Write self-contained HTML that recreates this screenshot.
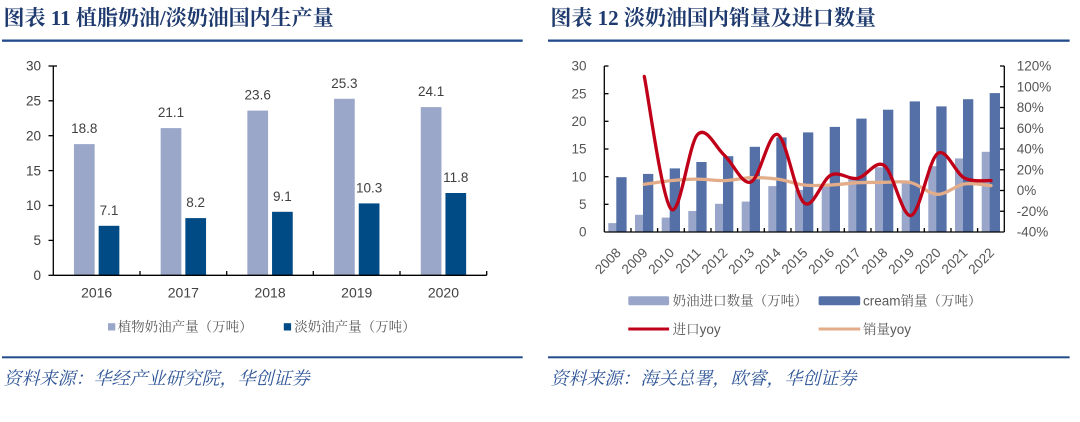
<!DOCTYPE html>
<html><head><meta charset="utf-8">
<style>
html,body{margin:0;padding:0;background:#fff;}
svg{display:block;}
.t{font-family:"Liberation Serif","Noto Serif CJK SC",serif;font-weight:bold;font-size:21px;fill:#1e3a6e;}
.n{font-family:"Liberation Sans",sans-serif;font-size:13.5px;fill:#404040;}
.r{font-family:"Liberation Sans",sans-serif;font-size:13.5px;fill:#555;}
.lg{font-family:"Liberation Sans","Noto Serif CJK SC",serif;font-size:13.5px;fill:#595959;}
.src{font-family:"Liberation Serif","Noto Serif CJK SC",serif;font-style:italic;font-size:18px;fill:#2f5597;}
</style></head>
<body>
<svg width="1080" height="422" viewBox="0 0 1080 422" xmlns="http://www.w3.org/2000/svg">
<rect width="1080" height="422" fill="#fff"/>

<!-- ===== LEFT CHART ===== -->
<text class="t" x="3.5" y="25">图表 11 植脂奶油/淡奶油国内生产量</text>
<rect x="2" y="39.5" width="520.7" height="2.3" fill="#234b8c"/>

<g class="n" text-anchor="end">
<text x="41" y="280">0</text>
<text x="41" y="245.1">5</text>
<text x="41" y="210.2">10</text>
<text x="41" y="175.3">15</text>
<text x="41" y="140.4">20</text>
<text x="41" y="105.5">25</text>
<text x="41" y="70.7">30</text>
</g>

<g fill="#9aa7c9">
<rect x="73.95" y="144.1" width="20.7" height="131.2"/>
<rect x="160.65" y="128.1" width="20.7" height="147.2"/>
<rect x="247.35" y="110.6" width="20.7" height="164.7"/>
<rect x="334.05" y="98.8" width="20.7" height="176.5"/>
<rect x="420.75" y="107.1" width="20.7" height="168.2"/>
</g>
<g fill="#004a85">
<rect x="98.65" y="225.8" width="20.7" height="49.5"/>
<rect x="185.35" y="218.1" width="20.7" height="57.2"/>
<rect x="272.05" y="211.8" width="20.7" height="63.5"/>
<rect x="358.75" y="203.4" width="20.7" height="71.9"/>
<rect x="445.45" y="193.0" width="20.7" height="82.3"/>
</g>

<g stroke="#000" stroke-width="1.3" fill="none">
<line x1="53.3" y1="66" x2="53.3" y2="275.3"/>
<line x1="53.3" y1="275.3" x2="486.7" y2="275.3"/>
<line x1="48.5" y1="66" x2="57" y2="66"/>
<line x1="48.5" y1="100.8" x2="53.3" y2="100.8"/>
<line x1="48.5" y1="135.7" x2="53.3" y2="135.7"/>
<line x1="48.5" y1="170.6" x2="53.3" y2="170.6"/>
<line x1="48.5" y1="205.5" x2="53.3" y2="205.5"/>
<line x1="48.5" y1="240.4" x2="53.3" y2="240.4"/>
<line x1="48.5" y1="275.3" x2="53.3" y2="275.3"/>
<line x1="140" y1="271" x2="140" y2="275.3"/>
<line x1="226.7" y1="271" x2="226.7" y2="275.3"/>
<line x1="313.3" y1="271" x2="313.3" y2="275.3"/>
<line x1="400" y1="271" x2="400" y2="275.3"/>
<line x1="486.7" y1="271" x2="486.7" y2="275.3"/>
</g>

<g class="n" text-anchor="middle">
<text x="84.3" y="133.1">18.8</text>
<text x="171" y="117.1">21.1</text>
<text x="257.7" y="99.6">23.6</text>
<text x="344.4" y="87.8">25.3</text>
<text x="431.1" y="96.1">24.1</text>
<text x="109" y="214.8">7.1</text>
<text x="195.7" y="207.1">8.2</text>
<text x="282.4" y="200.8">9.1</text>
<text x="369.1" y="192.4">10.3</text>
<text x="455.8" y="182">11.8</text>
</g>

<g class="n" text-anchor="middle" style="font-size:14px">
<text x="96.65" y="297.3">2016</text>
<text x="183.35" y="297.3">2017</text>
<text x="270.05" y="297.3">2018</text>
<text x="356.75" y="297.3">2019</text>
<text x="443.45" y="297.3">2020</text>
</g>

<rect x="108" y="323.2" width="7.3" height="7.3" fill="#9aa7c9"/>
<text class="lg" x="117.7" y="331.5">植物奶油产量（万吨）</text>
<rect x="283.8" y="323.2" width="7.3" height="7.3" fill="#004a85"/>
<text class="lg" x="294.2" y="331.5">淡奶油产量（万吨）</text>

<rect x="2" y="356.3" width="520.7" height="2" fill="#234b8c"/>
<text class="src" x="3.5" y="384.5">资料来源：华经产业研究院，华创证券</text>

<!-- ===== RIGHT CHART ===== -->
<text class="t" x="550.4" y="25">图表 12 淡奶油国内销量及进口数量</text>
<rect x="548" y="39.5" width="521.6" height="2.3" fill="#234b8c"/>

<g class="r" text-anchor="end">
<text x="586.5" y="236.7">0</text>
<text x="586.5" y="209">5</text>
<text x="586.5" y="181.4">10</text>
<text x="586.5" y="153.7">15</text>
<text x="586.5" y="126">20</text>
<text x="586.5" y="98.4">25</text>
<text x="586.5" y="70.7">30</text>
</g>
<g class="r">
<text x="1016.7" y="236.7">-40%</text>
<text x="1016.7" y="215.95">-20%</text>
<text x="1016.7" y="195.2">0%</text>
<text x="1016.7" y="174.45">20%</text>
<text x="1016.7" y="153.7">40%</text>
<text x="1016.7" y="132.95">60%</text>
<text x="1016.7" y="112.2">80%</text>
<text x="1016.7" y="91.45">100%</text>
<text x="1016.7" y="70.7">120%</text>
</g>

<g fill="#9aa6c9">
<rect x="608.3" y="223.1" width="10" height="8.9"/>
<rect x="635.0" y="214.8" width="10" height="17.2"/>
<rect x="661.7" y="217.6" width="10" height="14.4"/>
<rect x="688.3" y="211.0" width="10" height="21.0"/>
<rect x="715.0" y="203.8" width="10" height="28.2"/>
<rect x="741.7" y="201.6" width="10" height="30.4"/>
<rect x="768.3" y="186.1" width="10" height="45.9"/>
<rect x="795.0" y="189.9" width="10" height="42.1"/>
<rect x="821.7" y="185.0" width="10" height="47.0"/>
<rect x="848.3" y="177.8" width="10" height="54.2"/>
<rect x="875.0" y="167.3" width="10" height="64.7"/>
<rect x="901.7" y="183.3" width="10" height="48.7"/>
<rect x="928.3" y="166.2" width="10" height="65.8"/>
<rect x="955.0" y="158.4" width="10" height="73.6"/>
<rect x="981.7" y="151.8" width="10" height="80.2"/>
</g>
<g fill="#5470a7">
<rect x="616.3" y="177.2" width="10.3" height="54.8"/>
<rect x="643.0" y="173.9" width="10.3" height="58.1"/>
<rect x="669.7" y="168.4" width="10.3" height="63.6"/>
<rect x="696.3" y="162.0" width="10.3" height="70.0"/>
<rect x="723.0" y="156.2" width="10.3" height="75.8"/>
<rect x="749.7" y="146.8" width="10.3" height="85.2"/>
<rect x="776.3" y="137.4" width="10.3" height="94.6"/>
<rect x="803.0" y="132.4" width="10.3" height="99.6"/>
<rect x="829.7" y="126.9" width="10.3" height="105.1"/>
<rect x="856.3" y="118.6" width="10.3" height="113.4"/>
<rect x="883.0" y="109.7" width="10.3" height="122.3"/>
<rect x="909.7" y="101.4" width="10.3" height="130.6"/>
<rect x="936.3" y="106.4" width="10.3" height="125.6"/>
<rect x="963.0" y="99.2" width="10.3" height="132.8"/>
<rect x="989.7" y="93.1" width="10.3" height="138.9"/>
</g>

<path d="M644.3,184.3 C648.7,183.7 662.1,181.5 671.0,180.6 C679.9,179.7 688.7,179.1 697.6,179.1 C706.5,179.1 715.4,180.8 724.3,180.6 C733.2,180.4 742.1,178.0 751.0,177.7 C759.9,177.5 768.7,177.9 777.6,179.1 C786.5,180.3 795.4,184.0 804.3,185.0 C813.2,186.0 822.1,185.4 831.0,185.0 C839.9,184.6 848.7,183.2 857.6,182.7 C866.5,182.3 875.4,182.3 884.3,182.3 C893.2,182.3 902.1,180.7 911.0,182.7 C919.9,184.7 928.7,194.1 937.6,194.3 C946.5,194.5 955.4,185.4 964.3,184.0 C973.2,182.6 986.6,185.4 991.0,185.7" fill="none" stroke="#e3ad8a" stroke-width="3.3" stroke-linecap="round" stroke-linejoin="round"/>
<path d="M644.3,76.4 C648.7,98.5 662.1,199.3 671.0,209.0 C679.9,218.7 688.7,143.5 697.6,134.5 C706.5,125.5 715.4,147.3 724.3,155.2 C733.2,163.1 742.1,185.5 751.0,182.0 C759.9,178.6 768.7,131.0 777.6,134.5 C786.5,138.0 795.4,196.3 804.3,203.0 C813.2,209.8 822.1,179.1 831.0,175.0 C839.9,170.9 848.7,180.0 857.6,178.4 C866.5,176.8 875.4,159.3 884.3,165.5 C893.2,171.7 902.1,217.5 911.0,215.5 C919.9,213.5 928.7,159.8 937.6,153.5 C946.5,147.3 955.4,173.5 964.3,178.0 C973.2,182.5 986.6,180.2 991.0,180.6" fill="none" stroke="#c00018" stroke-width="3.3" stroke-linecap="round" stroke-linejoin="round"/>

<g stroke="#000" stroke-width="1.3" fill="none">
<line x1="604.3" y1="66" x2="604.3" y2="232"/>
<line x1="1004.3" y1="66" x2="1004.3" y2="232"/>
<line x1="604.3" y1="232" x2="1004.3" y2="232"/>
<line x1="604.3" y1="66" x2="608.5" y2="66"/>
<line x1="604.3" y1="93.7" x2="608.5" y2="93.7"/>
<line x1="604.3" y1="121.3" x2="608.5" y2="121.3"/>
<line x1="604.3" y1="149" x2="608.5" y2="149"/>
<line x1="604.3" y1="176.7" x2="608.5" y2="176.7"/>
<line x1="604.3" y1="204.3" x2="608.5" y2="204.3"/>
<line x1="1000" y1="66" x2="1004.3" y2="66"/>
<line x1="1000" y1="86.75" x2="1004.3" y2="86.75"/>
<line x1="1000" y1="107.5" x2="1004.3" y2="107.5"/>
<line x1="1000" y1="128.25" x2="1004.3" y2="128.25"/>
<line x1="1000" y1="149" x2="1004.3" y2="149"/>
<line x1="1000" y1="169.75" x2="1004.3" y2="169.75"/>
<line x1="1000" y1="190.5" x2="1004.3" y2="190.5"/>
<line x1="1000" y1="211.25" x2="1004.3" y2="211.25"/>
<line x1="631" y1="228" x2="631" y2="232"/>
<line x1="657.6" y1="228" x2="657.6" y2="232"/>
<line x1="684.3" y1="228" x2="684.3" y2="232"/>
<line x1="711" y1="228" x2="711" y2="232"/>
<line x1="737.6" y1="228" x2="737.6" y2="232"/>
<line x1="764.3" y1="228" x2="764.3" y2="232"/>
<line x1="791" y1="228" x2="791" y2="232"/>
<line x1="817.6" y1="228" x2="817.6" y2="232"/>
<line x1="844.3" y1="228" x2="844.3" y2="232"/>
<line x1="871" y1="228" x2="871" y2="232"/>
<line x1="897.6" y1="228" x2="897.6" y2="232"/>
<line x1="924.3" y1="228" x2="924.3" y2="232"/>
<line x1="951" y1="228" x2="951" y2="232"/>
<line x1="977.6" y1="228" x2="977.6" y2="232"/>
</g>

<g class="r" text-anchor="end">
<text transform="translate(621.7,253.6) rotate(-45)">2008</text>
<text transform="translate(648.4,253.6) rotate(-45)">2009</text>
<text transform="translate(675.1,253.6) rotate(-45)">2010</text>
<text transform="translate(701.7,253.6) rotate(-45)">2011</text>
<text transform="translate(728.4,253.6) rotate(-45)">2012</text>
<text transform="translate(755.1,253.6) rotate(-45)">2013</text>
<text transform="translate(781.7,253.6) rotate(-45)">2014</text>
<text transform="translate(808.4,253.6) rotate(-45)">2015</text>
<text transform="translate(835.1,253.6) rotate(-45)">2016</text>
<text transform="translate(861.7,253.6) rotate(-45)">2017</text>
<text transform="translate(888.4,253.6) rotate(-45)">2018</text>
<text transform="translate(915.1,253.6) rotate(-45)">2019</text>
<text transform="translate(941.7,253.6) rotate(-45)">2020</text>
<text transform="translate(968.4,253.6) rotate(-45)">2021</text>
<text transform="translate(995.1,253.6) rotate(-45)">2022</text>
</g>

<rect x="628.3" y="296.2" width="40.8" height="9" rx="1.5" fill="#9aa6c9"/>
<text class="lg" x="672.6" y="305.5">奶油进口数量（万吨）</text>
<rect x="818.6" y="296.2" width="41.6" height="9" rx="1.5" fill="#5470a7"/>
<text class="lg" x="863" y="305.5">cream销量（万吨）</text>
<line x1="628.3" y1="329" x2="669.1" y2="329" stroke="#c00018" stroke-width="3"/>
<text class="lg" x="672.6" y="334">进口yoy</text>
<line x1="818.6" y1="329" x2="860.2" y2="329" stroke="#e3ad8a" stroke-width="3"/>
<text class="lg" x="863" y="334">销量yoy</text>

<rect x="548" y="356.3" width="521.6" height="2" fill="#234b8c"/>
<text class="src" x="550.4" y="384.5">资料来源：海关总署，欧睿，华创证券</text>
</svg>
</body></html>
